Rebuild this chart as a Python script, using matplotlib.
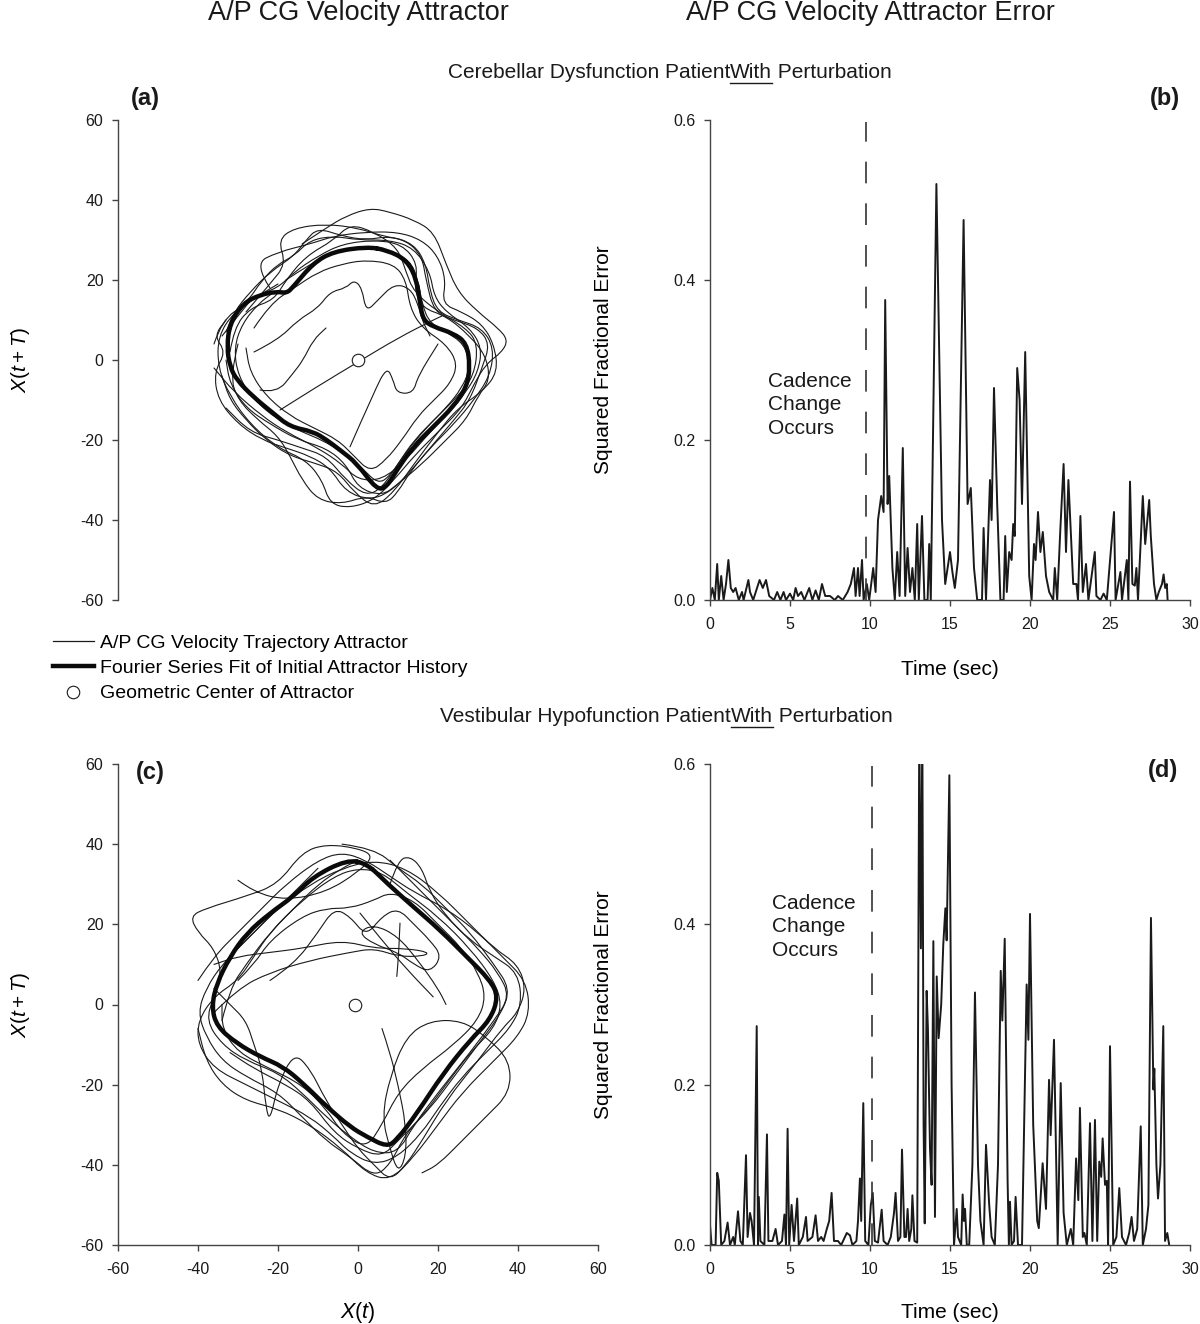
import matplotlib
matplotlib.use("Agg")
import matplotlib.pyplot as plt
from matplotlib.path import Path
from matplotlib.patches import PathPatch
from matplotlib.lines import Line2D

plt.rcParams['font.family'] = ['Liberation Sans', 'DejaVu Sans']
plt.rcParams['axes.unicode_minus'] = False
plt.rcParams['mathtext.fontset'] = 'custom'
plt.rcParams['mathtext.rm'] = 'Liberation Sans'
plt.rcParams['mathtext.it'] = 'Liberation Sans:italic'

# ---------------- data ----------------
titles = ["A/P CG Velocity Attractor", "A/P CG Velocity Attractor Error"]
subtitles = ["Cerebellar Dysfunction Patient", "Vestibular Hypofunction Patient"]
legend_labels = ["A/P CG Velocity Trajectory Attractor",
                 "Fourier Series Fit of Initial Attractor History",
                 "Geometric Center of Attractor"]
attr_ticks = [-60, -40, -20, 0, 20, 40, 60]
err_yticks = [0.0, 0.2, 0.4, 0.6]
err_xticks = [0, 5, 10, 15, 20, 25, 30]

# Panel (a): Fourier fit (closed loop) and trajectory cycles
fit_a = [(2.2, 28.3), (-6.2, 27.1), (-11.2, 24.2), (-16.2, 18.3), (-17.8, 16.7), (-20.3, 17.1),
         (-24.5, 16.3), (-28.7, 14.2), (-32, 9.2), (-32.8, 3.3), (-32, -1.7), (-30.3, -5),
         (-26.2, -9.2), (-21.2, -13.3), (-17, -16.7), (-11.2, -17.9), (-7.8, -20), (-4.5, -22.5),
         (-0.3, -25.8), (4.7, -32.5), (7.2, -31.7), (9.7, -27.5), (13.8, -21.7), (18.8, -16.7),
         (23.8, -11.7), (27.2, -6.7), (28, -1.7), (27.2, 4.2), (23.8, 6.7), (18.8, 8.3),
         (16.3, 10), (15.5, 14.2), (14.7, 20), (12.2, 25), (7.2, 27.5)]
center_a = (0.0, 0.0)
traj_a = [
    [(-14, 29), (-8, 33), (-3, 36), (3, 38), (8, 37), (14, 35), (19, 32), (22, 24), (25, 17), (30, 12),
     (35, 8), (37.5, 5), (36, 2), (32, -1), (29, -6), (26, -12), (20, -18), (14, -24), (9, -30), (4, -35),
     (-2, -37), (-7, -36), (-9, -30), (-13, -25), (-20, -22), (-27, -16), (-32, -9), (-35, -2), (-35, 6),
     (-31, 12), (-25, 16), (-20, 19)],
    [(-18, 20), (-12, 24), (-6, 27), (2, 28), (8, 27), (13, 25), (15, 20), (16, 14), (18, 9), (24, 6),
     (27, 3), (28, -2), (26, -7), (22, -12), (17, -17), (12, -23), (8, -29), (5, -31), (1, -27), (-4, -23),
     (-9, -20), (-14, -18), (-20, -15), (-26, -10), (-30, -4), (-31, 3), (-29, 9), (-25, 14), (-21, 17)],
    [(-28, 12), (-22, 19), (-18, 24), (-20, 30), (-16, 33), (-8, 34), (0, 33), (6, 31), (12, 30), (16, 26),
     (17, 20), (19, 12), (24, 10), (30, 8), (33, 4), (31, -2), (28, -10), (24, -15), (18, -22), (13, -28),
     (8, -33), (3, -35), (-3, -33), (-7, -27), (-12, -24), (-18, -22), (-24, -20), (-30, -16), (-35, -10),
     (-36, -3), (-33, 2), (-36, 6), (-33, 10)],
    [(-34, 6), (-30, 11), (-26, 16), (-20, 18), (-16, 22), (-10, 26), (-4, 29), (4, 30), (11, 29), (15, 24),
     (14, 18), (16, 13), (22, 11), (28, 6), (32, 1), (33, -5), (30, -9), (27, -15), (22, -20), (16, -26),
     (10, -31), (6, -34), (0, -32), (-3, -26), (-8, -22), (-15, -20), (-22, -16), (-28, -12), (-32, -6), (-33, 0)],
    [(-26, 8), (-22, 14), (-16, 18), (-10, 22), (-4, 24), (2, 25), (9, 24), (12, 20), (13, 13), (16, 8),
     (22, 4), (25, -1), (23, -6), (19, -10), (15, -14), (11, -20), (7, -25), (3, -28), (-1, -24), (-5, -20),
     (-11, -17), (-17, -14), (-23, -9), (-27, -3), (-28, 3)],
    [(-30, 4), (-32, -4), (-30, -10), (-25, -15), (-20, -19), (-17, -24), (-14, -30), (-10, -35), (-4, -36),
     (2, -34), (7, -36), (10, -33), (13, -28), (18, -22), (24, -16), (29, -10), (33, -4), (34, 3), (31, 8),
     (25, 10), (20, 12), (18, 17), (17, 24), (14, 29), (8, 31), (2, 30), (-4, 31), (-10, 33), (-13, 30),
     (-16, 26), (-22, 22), (-27, 17), (-31, 12), (-33, 7)],
    [(-36, 4), (-34, 10), (-28, 14), (-24, 20), (-20, 24), (-16, 26), (-12, 30), (-6, 31), (0, 30), (8, 30),
     (14, 28), (18, 22), (19, 16), (22, 12), (28, 8), (31, 3), (30, -3), (27, -8), (23, -13), (18, -18),
     (12, -25), (6, -30), (0, -30), (-4, -26), (-10, -22), (-18, -18), (-24, -14), (-31, -8), (-36, -2)],
    [(-22, 18), (-26, 24), (-20, 27), (-12, 29), (-6, 31), (2, 32), (10, 32), (16, 30), (20, 26), (22, 20),
     (21, 14), (26, 12), (31, 9), (34, 4), (35, -3), (31, -8), (25, -12), (20, -18), (14, -26), (9, -33),
     (4, -37), (-1, -33), (-5, -28), (-10, -26), (-17, -24), (-23, -20), (-28, -15), (-32, -10), (-34, -4)],
    [(-32, 2), (-31, 8), (-27, 13), (-21, 15), (-18, 20), (-13, 26), (-6, 30), (-2, 34), (4, 32), (10, 28),
     (12, 22), (14, 17), (20, 12), (27, 8), (30, 4), (29, -4), (25, -9), (20, -14), (14, -20), (10, -26),
     (6, -32), (2, -34), (-3, -30), (-8, -24), (-14, -22), (-20, -20), (-27, -18), (-33, -12)],
    [(-26, 2), (-20, 5), (-15, 10), (-10, 13), (-7, 17), (-3, 18), (-1, 20), (1, 18), (2, 12), (5, 15),
     (9, 19), (13, 18), (15, 14), (16, 10), (18, 6)],
    [(-24.5, -7.5), (-20.3, -8.3), (-16.2, -3.3), (-13.7, 0), (-11.2, 5), (-8, 8)],
    [(-19.5, -12.5), (-10, -6.5), (0, -0.5), (10, 5.5), (18.8, 10), (21, 11)],
    [(-2, -21.7), (4, -8), (7.2, -1.7), (8.8, -5), (9.7, -8.3), (13.8, -8.3), (15, -4), (20, 4)],
]

# Panel (c)
fit_c = [(-2.8, 36.1), (-11.2, 31.9), (-16.2, 26.9), (-22, 22.8), (-27.8, 17.8), (-32, 11.9),
         (-35.3, 5.3), (-36.6, -0.5), (-35.3, -5.5), (-30.3, -9.7), (-24.5, -13), (-18.7, -15.5),
         (-13.7, -19.7), (-7.8, -25.5), (-2, -30.5), (2.2, -33), (7.2, -35.5), (9.7, -33.8),
         (14.7, -27.2), (21.3, -17.2), (28, -8.9), (33, -3.9), (35.1, 1.9), (33, 6.1), (27.2, 11.9),
         (20.5, 18.6), (13.8, 24.4), (7.2, 30.3), (2.2, 35.2)]
center_c = (-0.7, 0.0)
traj_c = [
    [(-4, 40), (4, 39), (10, 34), (16, 30), (22, 24), (28, 18), (34, 10), (38, 4), (36, -2), (30, -10),
     (24, -18), (18, -26), (12, -32), (8, -40), (4, -43), (-2, -38), (-8, -34), (-14, -28), (-20, -22),
     (-28, -18), (-34, -14), (-38, -8), (-40, -2), (-38, 4), (-34, 10), (-28, 16), (-22, 22), (-16, 28), (-10, 34)],
    [(-30, 31), (-26, 28), (-18, 26), (-8, 28), (0, 33), (4, 37), (0, 39), (-8, 40), (-14, 38), (-20, 30),
     (-28, 27), (-38, 24), (-42, 22), (-40, 18), (-36, 14), (-34, 8), (-36, 2), (-38, -4), (-34, -10),
     (-28, -14), (-20, -17), (-14, -22), (-8, -28), (-2, -33), (4, -37), (10, -37), (14, -30), (20, -22),
     (28, -12), (34, -4), (38, 2), (35, 8), (30, 14), (24, 20), (18, 26), (12, 32), (8, 36)],
    [(8, 30), (10, 36), (13, 37), (16, 34), (18, 28), (22, 22), (28, 16), (34, 12), (40, 8), (41, 0),
     (38, -6), (32, -12), (26, -18), (20, -26), (16, -32), (10, -38), (4, -40), (-2, -37), (-6, -33),
     (-12, -28), (-20, -24), (-28, -20), (-36, -16), (-40, -10), (-40, -4), (-36, 2), (-30, 6), (-26, 12),
     (-22, 18), (-16, 24), (-10, 30), (-4, 34), (0, 36), (4, 34)],
    [(-30, 6), (-26, 10), (-22, 16), (-14, 22), (-8, 24), (-2, 24), (4, 26), (8, 28), (14, 26), (20, 20),
     (26, 14), (30, 8), (32, 2), (30, -4), (24, -10), (16, -16), (10, -22), (6, -30), (2, -36), (-4, -32),
     (-8, -26), (-14, -20), (-22, -16), (-30, -12), (-34, -6), (-34, 0)],
    [(-36, 4), (-32, 0), (-28, -4), (-26, -10), (-24, -16), (-23, -26), (-22, -29), (-20, -20), (-16, -12),
     (-12, -16), (-8, -24), (-4, -30), (0, -36), (4, -40), (8, -44), (12, -40), (16, -34), (22, -24),
     (30, -14), (36, -6), (40, -2), (42, 4), (40, 10), (34, 14), (28, 20), (20, 28), (12, 34), (4, 36),
     (-4, 34), (-12, 30), (-20, 24), (-26, 18), (-32, 12)],
    [(-36, -2), (-30, 4), (-22, 8), (-12, 11), (-2, 13), (4, 14), (10, 12), (16, 12), (18, 13), (12, 14),
     (4, 14), (-4, 16), (-14, 14), (-22, 13), (-30, 12), (-36, 10)],
    [(-22, 6), (-16, 10), (-10, 18), (-6, 24), (-2, 22), (2, 17), (6, 22), (10, 24), (14, 20), (18, 16),
     (21, 12), (18, 8), (14, 10), (10, 13), (4, 15), (0, 18), (4, 20), (10, 17), (15, 11), (20, 4), (22, 0)],
    [(6, -6), (8, -12), (10, -20), (12, -30), (12, -38), (10, -42), (8, -36), (6, -28), (8, -18), (12, -8),
     (18, -4), (26, -4), (32, -8), (38, -14), (38, -22), (32, -28), (26, -34), (20, -40), (16, -42)],
    [(-34, -4), (-32, 4), (-28, 10), (-22, 18), (-14, 26), (-6, 32), (0, 34), (6, 33), (12, 28), (20, 22),
     (28, 14), (34, 6), (36, 0), (34, -6), (28, -12), (22, -20), (16, -28), (10, -34), (6, -38), (0, -36),
     (-6, -32), (-12, -24), (-18, -20), (-26, -16), (-32, -12)],
    [(-40, 6), (-36, 12), (-30, 18), (-24, 24), (-18, 30), (-10, 36), (-4, 38), (2, 36), (8, 32), (14, 28),
     (22, 24), (30, 18), (36, 12), (42, 6), (43, -2), (40, -8), (34, -14), (26, -22), (20, -30), (14, -38),
     (8, -44), (2, -42), (-4, -36), (-12, -30), (-20, -26), (-28, -24), (-34, -20), (-38, -14), (-40, -6)],
    [(0.5, 22.8), (6, 16), (12, 9), (18.8, 1.9)],
    [(10.5, 20.3), (10.2, 13), (9.7, 7)],
]

# Panel (b): squared fractional error, cerebellar patient
time_b = [0.0, 0.15, 0.3, 0.45, 0.55, 0.7, 0.85, 1.0, 1.15, 1.3, 1.45, 1.6, 1.8, 2.0, 2.1, 2.4, 2.5, 2.7,
          3.1, 3.3, 3.5, 3.7, 4.0, 4.2, 4.4, 4.6, 4.75, 5.0, 5.2, 5.35, 5.5, 5.7, 5.9, 6.2, 6.4, 6.6, 6.8,
          7.0, 7.2, 7.5, 7.8, 8.0, 8.3, 8.6, 8.8, 9.0, 9.1, 9.25, 9.35, 9.5, 9.6, 9.8, 9.95, 10.2, 10.35,
          10.5, 10.7, 10.85, 10.95, 11.1, 11.2, 11.4, 11.55, 11.7, 11.85, 12.05, 12.2, 12.35, 12.5, 12.65,
          12.8, 12.95, 13.05, 13.25, 13.4, 13.6, 13.7, 13.8, 14.15, 14.5, 14.7, 15.0, 15.15, 15.3, 15.5,
          15.85, 16.1, 16.3, 16.5, 16.7, 17.0, 17.1, 17.25, 17.5, 17.6, 17.75, 17.95, 18.15, 18.35, 18.45,
          18.55, 18.7, 18.85, 18.95, 19.05, 19.2, 19.35, 19.5, 19.7, 19.95, 20.1, 20.25, 20.35, 20.5, 20.65,
          20.8, 21.0, 21.2, 21.45, 21.55, 21.7, 21.9, 22.1, 22.25, 22.4, 22.7, 22.9, 23.0, 23.15, 23.3, 23.5,
          23.65, 24.05, 24.15, 24.4, 24.6, 24.8, 25.25, 25.35, 25.65, 25.75, 26.05, 26.15, 26.25, 26.4,
          26.55, 26.65, 26.75, 27.05, 27.2, 27.45, 27.55, 27.75, 27.9, 28.05, 28.25, 28.35, 28.45, 28.55, 28.6]
err_b = [0.0, 0.015, 0.0, 0.045, 0.0, 0.03, 0.0, 0.02, 0.05, 0.015, 0.01, 0.015, 0.0, 0.01, 0.0, 0.025,
         0.01, 0.0, 0.025, 0.015, 0.025, 0.005, 0.0, 0.01, 0.0, 0.01, 0.0, 0.008, 0.0, 0.015, 0.005, 0.01,
         0.0, 0.015, 0.0, 0.012, 0.0, 0.02, 0.005, 0.005, 0.0, 0.005, 0.0, 0.01, 0.02, 0.04, 0.005, 0.04,
         0.005, 0.05, 0.0, 0.02, 0.0, 0.04, 0.01, 0.1, 0.13, 0.11, 0.375, 0.12, 0.155, 0.04, 0.0, 0.06,
         0.005, 0.19, 0.005, 0.065, 0.01, 0.04, 0.0, 0.095, 0.0, 0.105, 0.0, 0.0, 0.07, 0.0, 0.52, 0.1,
         0.02, 0.06, 0.035, 0.015, 0.05, 0.475, 0.12, 0.14, 0.04, 0.0, 0.0, 0.09, 0.0, 0.15, 0.1, 0.265,
         0.12, 0.0, 0.0, 0.08, 0.01, 0.06, 0.05, 0.095, 0.08, 0.29, 0.25, 0.12, 0.31, 0.03, 0.0, 0.07, 0.05,
         0.11, 0.06, 0.085, 0.03, 0.01, 0.0, 0.04, 0.0, 0.09, 0.17, 0.06, 0.15, 0.02, 0.02, 0.0, 0.105,
         0.01, 0.045, 0.0, 0.06, 0.005, 0.0, 0.008, 0.0, 0.11, 0.0, 0.035, 0.0, 0.05, 0.0, 0.148, 0.02,
         0.018, 0.04, 0.0, 0.13, 0.07, 0.125, 0.08, 0.02, 0.0, 0.01, 0.02, 0.032, 0.015, 0.02, 0.0]
cadence_b = 9.75

# Panel (d): squared fractional error, vestibular patient
time_d = [0.0, 0.1, 0.35, 0.45, 0.55, 0.7, 0.9, 1.1, 1.25, 1.45, 1.55, 1.75, 1.9, 2.05, 2.25, 2.35, 2.5,
          2.6, 2.75, 2.92, 3.0, 3.05, 3.15, 3.4, 3.56, 3.65, 3.9, 4.1, 4.25, 4.5, 4.65, 4.75, 4.85, 4.95,
          5.1, 5.25, 5.45, 5.55, 5.8, 6.0, 6.1, 6.4, 6.6, 6.75, 6.95, 7.1, 7.3, 7.45, 7.6, 7.75, 8.0, 8.2,
          8.55, 8.75, 8.9, 9.15, 9.25, 9.37, 9.45, 9.58, 9.7, 9.9, 10.05, 10.17, 10.3, 10.5, 10.73, 10.85,
          11.1, 11.3, 11.5, 11.6, 11.75, 11.9, 12.0, 12.15, 12.25, 12.35, 12.45, 12.58, 12.65, 12.78, 12.95,
          13.08, 13.18, 13.27, 13.35, 13.42, 13.54, 13.62, 13.75, 13.85, 13.96, 14.06, 14.17, 14.29, 14.45,
          14.58, 14.71, 14.79, 14.96, 15.1, 15.25, 15.42, 15.5, 15.7, 15.79, 15.87, 15.94, 16.05, 16.2,
          16.4, 16.56, 16.75, 16.9, 17.1, 17.25, 17.45, 17.6, 17.8, 18.0, 18.17, 18.27, 18.42, 18.6, 18.68,
          18.75, 18.85, 19.0, 19.1, 19.25, 19.5, 19.79, 19.9, 20.0, 20.2, 20.45, 20.55, 20.79, 21.0, 21.19,
          21.29, 21.5, 21.73, 21.92, 22.1, 22.3, 22.55, 22.7, 22.88, 23.02, 23.12, 23.3, 23.4, 23.55, 23.75,
          23.9, 24.06, 24.2, 24.33, 24.45, 24.54, 24.69, 24.8, 24.88, 25.0, 25.2, 25.4, 25.58, 25.75, 26.0,
          26.2, 26.35, 26.5, 26.7, 26.92, 27.05, 27.25, 27.4, 27.56, 27.71, 27.77, 27.9, 28.0, 28.15, 28.33,
          28.44, 28.58, 28.7]
err_d = [0.025, 0.0, 0.0, 0.09, 0.08, 0.0, 0.005, 0.028, 0.0, 0.01, 0.0, 0.042, 0.005, 0.0, 0.112, 0.01,
         0.04, 0.03, 0.0, 0.273, 0.0, 0.06, 0.005, 0.0, 0.138, 0.005, 0.005, 0.02, 0.0, 0.005, 0.038, 0.0,
         0.145, 0.0, 0.05, 0.005, 0.058, 0.0, 0.01, 0.035, 0.005, 0.01, 0.037, 0.005, 0.01, 0.005, 0.02,
         0.03, 0.065, 0.005, 0.005, 0.0, 0.015, 0.012, 0.0, 0.005, 0.03, 0.083, 0.03, 0.177, 0.005, 0.0,
         0.05, 0.065, 0.005, 0.003, 0.044, 0.005, 0.0, 0.01, 0.04, 0.065, 0.005, 0.01, 0.119, 0.01, 0.01,
         0.045, 0.005, 0.02, 0.062, 0.005, 0.003, 0.65, 0.37, 0.65, 0.15, 0.027, 0.317, 0.27, 0.12, 0.075,
         0.379, 0.035, 0.335, 0.258, 0.3, 0.375, 0.42, 0.38, 0.586, 0.2, 0.0, 0.045, 0.01, 0.0, 0.063, 0.03,
         0.045, 0.0, 0.0, 0.1, 0.315, 0.1, 0.03, 0.0, 0.125, 0.05, 0.01, 0.0, 0.1, 0.342, 0.28, 0.382, 0.08,
         0.0, 0.054, 0.0, 0.005, 0.06, 0.0, 0.0, 0.325, 0.256, 0.413, 0.15, 0.03, 0.021, 0.102, 0.045, 0.206,
         0.137, 0.256, 0.0, 0.202, 0.04, 0.0, 0.02, 0.0, 0.108, 0.056, 0.171, 0.01, 0.015, 0.0, 0.152, 0.005,
         0.156, 0.005, 0.104, 0.085, 0.133, 0.075, 0.08, 0.0, 0.248, 0.0, 0.01, 0.071, 0.01, 0.0, 0.015,
         0.035, 0.005, 0.02, 0.148, 0.0, 0.02, 0.05, 0.408, 0.194, 0.22, 0.1, 0.058, 0.1, 0.273, 0.005,
         0.015, 0.0]
cadence_d = 10.1

# ---------------- helpers ----------------
INK = '#1a1a1a'
AXC = '#444444'


def smooth_patch(pts, closed, lw, color):
    verts, codes = [], []
    n = len(pts)
    mid = lambda p, q: ((p[0] + q[0]) / 2.0, (p[1] + q[1]) / 2.0)
    if closed:
        verts.append(mid(pts[-1], pts[0])); codes.append(Path.MOVETO)
        for i in range(n):
            verts += [pts[i], mid(pts[i], pts[(i + 1) % n])]
            codes += [Path.CURVE3, Path.CURVE3]
    else:
        verts.append(pts[0]); codes.append(Path.MOVETO)
        for i in range(1, n - 1):
            verts += [pts[i], mid(pts[i], pts[i + 1])]
            codes += [Path.CURVE3, Path.CURVE3]
        verts.append(pts[-1]); codes.append(Path.LINETO)
    return PathPatch(Path(verts, codes), fill=False, lw=lw, ec=color, capstyle='round', joinstyle='round')


W, H = 1200, 1324
fig = plt.figure(figsize=(W / 100, H / 100), dpi=100)


def axes_px(x0, y0, x1, y1):
    return fig.add_axes([x0 / W, 1 - y1 / H, (x1 - x0) / W, (y1 - y0) / H])


ax_a = axes_px(118, 120, 598, 600)
ax_b = axes_px(710, 120, 1190, 600)
ax_c = axes_px(118, 764, 598, 1245)
ax_d = axes_px(710, 764, 1190, 1245)

for ax in (ax_a, ax_b, ax_c, ax_d):
    ax.spines['top'].set_visible(False)
    ax.spines['right'].set_visible(False)
    for s in ('left', 'bottom'):
        ax.spines[s].set_color(AXC)
        ax.spines[s].set_linewidth(1.0)
    ax.tick_params(direction='out', length=4.5, width=1.0, color=AXC, labelsize=11.5, labelcolor=INK)
    ax.tick_params(axis='y', pad=6)
    ax.tick_params(axis='x', pad=8)
    ax.set_facecolor('none')


def attractor(ax, fit, traj, center):
    ax.set_xlim(-60, 60)
    ax.set_ylim(-60, 60)
    for tr in traj:
        ax.add_patch(smooth_patch(tr, False, 0.8, INK))
    ax.add_patch(smooth_patch(fit, True, 3.2, '#0a0a0a'))
    ax.plot([center[0]], [center[1]], 'o', ms=9, mfc='white', mec=INK, mew=0.8, zorder=5)
    ax.set_yticks(attr_ticks)
    ax.set_xticks(attr_ticks)
    ax.set_ylabel(r'$X(t+T)$', fontsize=15)
    ax.yaxis.set_label_coords(-0.18, 0.5)


attractor(ax_a, fit_a, traj_a, center_a)
attractor(ax_c, fit_c, traj_c, center_c)
ax_a.spines['bottom'].set_visible(False)
ax_a.tick_params(axis='x', bottom=False, labelbottom=False)
ax_c.set_xlabel(r'$X(t)$', fontsize=15.5)
ax_c.xaxis.set_label_coords(0.5, -0.114)


def error_panel(ax, t, e, cad, ytext, xlab_y):
    ax.set_xlim(0, 30)
    ax.set_ylim(0, 0.6)
    ax.plot(t, e, color=INK, lw=1.4, clip_on=True)
    ax.axvline(cad, ymax=0.995, color='#333333', lw=1.2, dashes=(13, 12))
    ax.set_xticks(err_xticks)
    ax.set_yticks(err_yticks)
    ax.set_yticklabels([f'{v:.1f}' for v in err_yticks])
    ax.set_ylabel('Squared Fractional Error', fontsize=15)
    ax.yaxis.set_label_coords(-0.203, 0.5)
    ax.set_xlabel('Time (sec)', fontsize=15)
    ax.xaxis.set_label_coords(0.5, xlab_y)
    ax.text(ytext[0], ytext[1], 'Cadence\nChange\nOccurs', fontsize=15, va='top', ha='left',
            linespacing=1.3, color=INK)


error_panel(ax_b, time_b, err_b, cadence_b, (3.6, 0.285), -0.125)
error_panel(ax_d, time_d, err_d, cadence_d, (3.9, 0.438), -0.12)

# titles and subtitles
fig.text(358 / W, 1 - 13 / H, titles[0], fontsize=19.5, ha='center', va='center', color=INK)
fig.text(870 / W, 1 - 13 / H, titles[1], fontsize=19.5, ha='center', va='center', color=INK)


def subtitle(xc, yc, patient):
    t1 = fig.text(xc / W, 1 - yc / H, patient, fontsize=15, ha='right', va='center', color=INK)
    t2 = fig.text(xc / W, 1 - yc / H, 'With', fontsize=15, ha='left', va='center', color=INK)
    t3 = fig.text(xc / W, 1 - yc / H, ' Perturbation', fontsize=15, ha='left', va='center', color=INK)
    return t1, t2, t3


sub1 = subtitle(730, 72, subtitles[0])
sub2 = subtitle(731, 716, subtitles[1])

# panel letters
for lab, xy in (('(a)', (145, 98)), ('(b)', (1165, 98)), ('(c)', (150, 772)), ('(d)', (1163, 770))):
    fig.text(xy[0] / W, 1 - xy[1] / H, lab, fontsize=17, fontweight='bold', ha='center', va='center',
             color=INK)

# legend
handles = [Line2D([], [], color=INK, lw=0.9),
           Line2D([], [], color='#0a0a0a', lw=3.2),
           Line2D([], [], ls='none', marker='o', ms=9, mfc='white', mec=INK, mew=0.8)]
ax_a.legend(handles, legend_labels, loc='upper left', bbox_to_anchor=(53 / W, 1 - 634 / H),
            bbox_transform=fig.transFigure, frameon=False, fontsize=14, handlelength=2.1,
            handletextpad=0.3, labelspacing=0.4, borderpad=0, borderaxespad=0)

# place 'With' underline and the following words after layout
fig.canvas.draw()
r = fig.canvas.get_renderer()
inv = fig.transFigure.inverted()
for t1, t2, t3 in (sub1, sub2):
    bb2 = t2.get_window_extent(r)
    x_end = inv.transform((bb2.x1, bb2.y0))[0]
    t3.set_x(x_end)
    x0f, y0f = inv.transform((bb2.x0, bb2.y0))
    fig.add_artist(Line2D([x0f, x_end], [y0f - 1.5 / H, y0f - 1.5 / H], transform=fig.transFigure,
                          color=INK, lw=1.0))

fig.savefig('out.png', dpi=100)
